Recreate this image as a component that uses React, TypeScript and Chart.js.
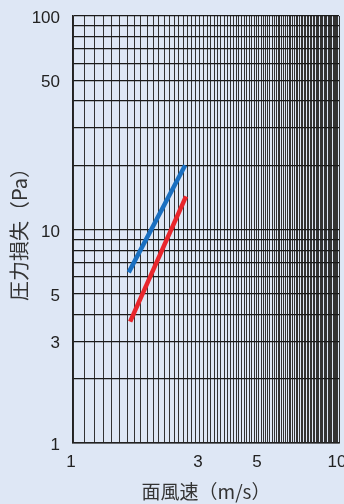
import React, { useEffect, useRef } from 'react';
import { Chart, registerables } from 'chart.js';

Chart.register(...registerables);

// Tick labels shown on the axes
const xTickLabels = [1, 3, 5, 10];
const yTickLabels = [1, 3, 5, 10, 50, 100];

// Grid line positions
const yGridValues = [1, 2, 3, 4, 5, 6, 7, 8, 9, 10, 20, 30, 40, 50, 60, 70, 80, 90, 100];
const xGridValues: number[] = [];
for (let i = 0; i <= 90; i++) xGridValues.push(Math.round((1 + i * 0.1) * 10) / 10);

// Series (face velocity m/s -> pressure loss Pa)
const blueX = [1.62, 2.64];
const blueY = [6.3, 20.0];
const redX = [1.64, 2.66];
const redY = [3.7, 14.3];

const BG = '#dee7f5';
const TICK_FONT = "'Liberation Sans', Arial, Helvetica, sans-serif";
const TITLE_FONT = "'Noto Sans CJK JP', sans-serif";

export default function App() {
  const ref = useRef<HTMLCanvasElement | null>(null);

  useEffect(() => {
    if (!ref.current) return;
    const toPts = (xs: number[], ys: number[]) => xs.map((x, i) => ({ x, y: ys[i] }));
    const chart = new Chart(ref.current, {
      type: 'line',
      data: {
        datasets: [
          {
            data: toPts(blueX, blueY),
            borderColor: '#1a6fc0',
            borderWidth: 4.5,
            borderCapStyle: 'butt',
            pointRadius: 0,
            fill: false,
          },
          {
            data: toPts(redX, redY),
            borderColor: '#e8262c',
            borderWidth: 4.5,
            borderCapStyle: 'butt',
            pointRadius: 0,
            fill: false,
          },
        ],
      },
      options: {
        animation: false,
        responsive: true,
        maintainAspectRatio: false,
        layout: { padding: { top: 16, right: 5, left: 0, bottom: 0 } },
        plugins: { legend: { display: false }, tooltip: { enabled: false } },
        scales: {
          x: {
            type: 'logarithmic',
            min: 1,
            max: 10,
            afterBuildTicks: (scale: any) => {
              scale.ticks = xGridValues.map((v) => ({ value: v }));
            },
            afterFit: (scale: any) => {
              scale.height = 61;
              scale.paddingLeft = 0;
              scale.paddingRight = 0;
            },
            grid: { color: '#333', lineWidth: 1, drawTicks: false },
            border: { display: true, color: '#222', width: 1.5 },
            ticks: {
              autoSkip: false,
              maxRotation: 0,
              minRotation: 0,
              padding: 9,
              labelOffset: -2,
              color: '#222',
              font: { family: TICK_FONT, size: 17 },
              callback: (v: any) => (xTickLabels.includes(Number(v)) ? String(v) : ''),
            },
            title: {
              display: true,
              text: '面風速（m/s）',
              color: '#333',
              font: { family: TITLE_FONT, size: 19 },
              padding: { top: 0, bottom: 1 },
            },
          },
          y: {
            type: 'logarithmic',
            min: 1,
            max: 100,
            afterBuildTicks: (scale: any) => {
              scale.ticks = yGridValues.map((v) => ({ value: v }));
            },
            afterFit: (scale: any) => {
              scale.width = 73;
              scale.paddingTop = 0;
              scale.paddingBottom = 0;
            },
            grid: { color: '#1a1a1a', lineWidth: 1.2, drawTicks: false },
            border: { display: true, color: '#222', width: 1.5 },
            ticks: {
              autoSkip: false,
              padding: 13,
              labelOffset: 2.5,
              color: '#222',
              font: { family: TICK_FONT, size: 17 },
              callback: (v: any) => (yTickLabels.includes(Number(v)) ? String(v) : ''),
            },
            title: {
              display: true,
              text: '圧力損失（Pa）',
              color: '#333',
              font: { family: TITLE_FONT, size: 20 },
              padding: { top: 7, bottom: 0 },
            },
          },
        },
      },
    } as any);
    return () => chart.destroy();
  }, []);

  return (
    <div
      style={{
        position: 'fixed',
        left: 0,
        top: 0,
        width: 344,
        height: 504,
        background: BG,
      }}
    >
      <canvas ref={ref} />
    </div>
  );
}
